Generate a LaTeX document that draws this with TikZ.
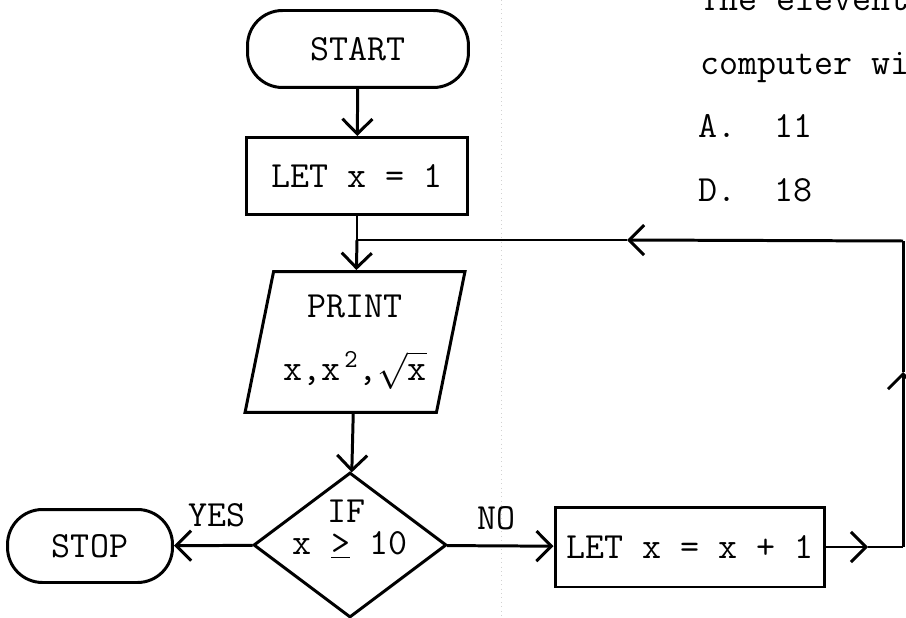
\documentclass[tikz,border=0pt]{standalone}
\usetikzlibrary{shapes.geometric,arrows.meta}

\tikzset{
  ttf/.style={font=\fontsize{21}{25}\selectfont\ttfamily},
  box/.style={draw, line width=1.7pt, minimum width=4.42cm, minimum height=1.54cm, ttf},
  term/.style={box, rounded corners=0.7cm},
  io/.style={trapezium, draw, line width=1.7pt, trapezium left angle=75, trapezium right angle=105,
    trapezium stretches body=true, minimum width=4.4cm, minimum height=2.82cm, align=center, ttf},
  decision/.style={diamond, draw, line width=1.7pt, minimum width=3.86cm, minimum height=2.9cm,
    inner sep=0pt, ttf},
  line/.style={line width=1.7pt},
  flow/.style={line, -{Straight Barb[length=3mm,width=6mm]}},
  lbl/.style={inner sep=0pt, ttf}
}

\begin{document}
\begin{tikzpicture}[x=0.02cm, y=-0.02cm]
  \useasboundingbox (0,0) rectangle (906,618);

  % faint fold line of the page
  \draw[gray!35, dotted, line width=0.5pt] (501,0) -- (501,618);

  % Main column
  \node[term] (start) at (358,49) {START};
  \node[box] (init) at (357,176) {LET x = 1};
  \coordinate (join) at (357,240);
  \node[io] (print) at (355,342) {PRINT\\[11pt]x,x\textsuperscript{\,2},$\sqrt{\mbox{x}}$};
  \node[decision] (cond) at (350,545) {x \underline{>} 10};
  \node[lbl] (iflbl) at (346,511) {IF};

  % Branches
  \node[term, minimum width=3.3cm, minimum height=1.46cm] (stop) at (90,546) {STOP};
  \node[box, minimum width=5.4cm, minimum height=1.6cm] (inc) at (690,547) {LET x = x + 1};

  % Loop back corners and mid-arrows
  \coordinate (a1) at (868,547);
  \coordinate (ret) at (903,547);
  \coordinate (a2) at (903,372);
  \coordinate (corner) at (903,241);
  \coordinate (a3) at (627,240);

  \draw[flow] (start) -- (init);
  \draw[line] (init) -- (join);
  \draw[flow] (join) -- (print);
  \draw[flow] (print) -- (cond);
  \draw[flow] (cond) -- node[lbl, pos=0.45, above=10pt] {YES} (stop);
  \draw[flow] (cond) -- node[lbl, pos=0.46, above=8pt] {NO} (inc);
  \draw[flow] (inc) -- (a1);
  \draw[line] (a1) -- (ret);
  \draw[flow] (ret) -- (a2);
  \draw[line] (a2) -- (corner);
  \draw[flow] (corner) -- (a3);
  \draw[line] (a3) -- (join);

  % Question text on the right
  \node[lbl, anchor=base west] (q0) at (700,11) {The eleventh};
  \node[lbl, anchor=base west] (q1) at (700,75) {computer wi};
  \node[lbl, anchor=base west] (q2) at (698,138) {A.~~11};
  \node[lbl, anchor=base west] (q3) at (698,202) {D.~~18};
\end{tikzpicture}
\end{document}
